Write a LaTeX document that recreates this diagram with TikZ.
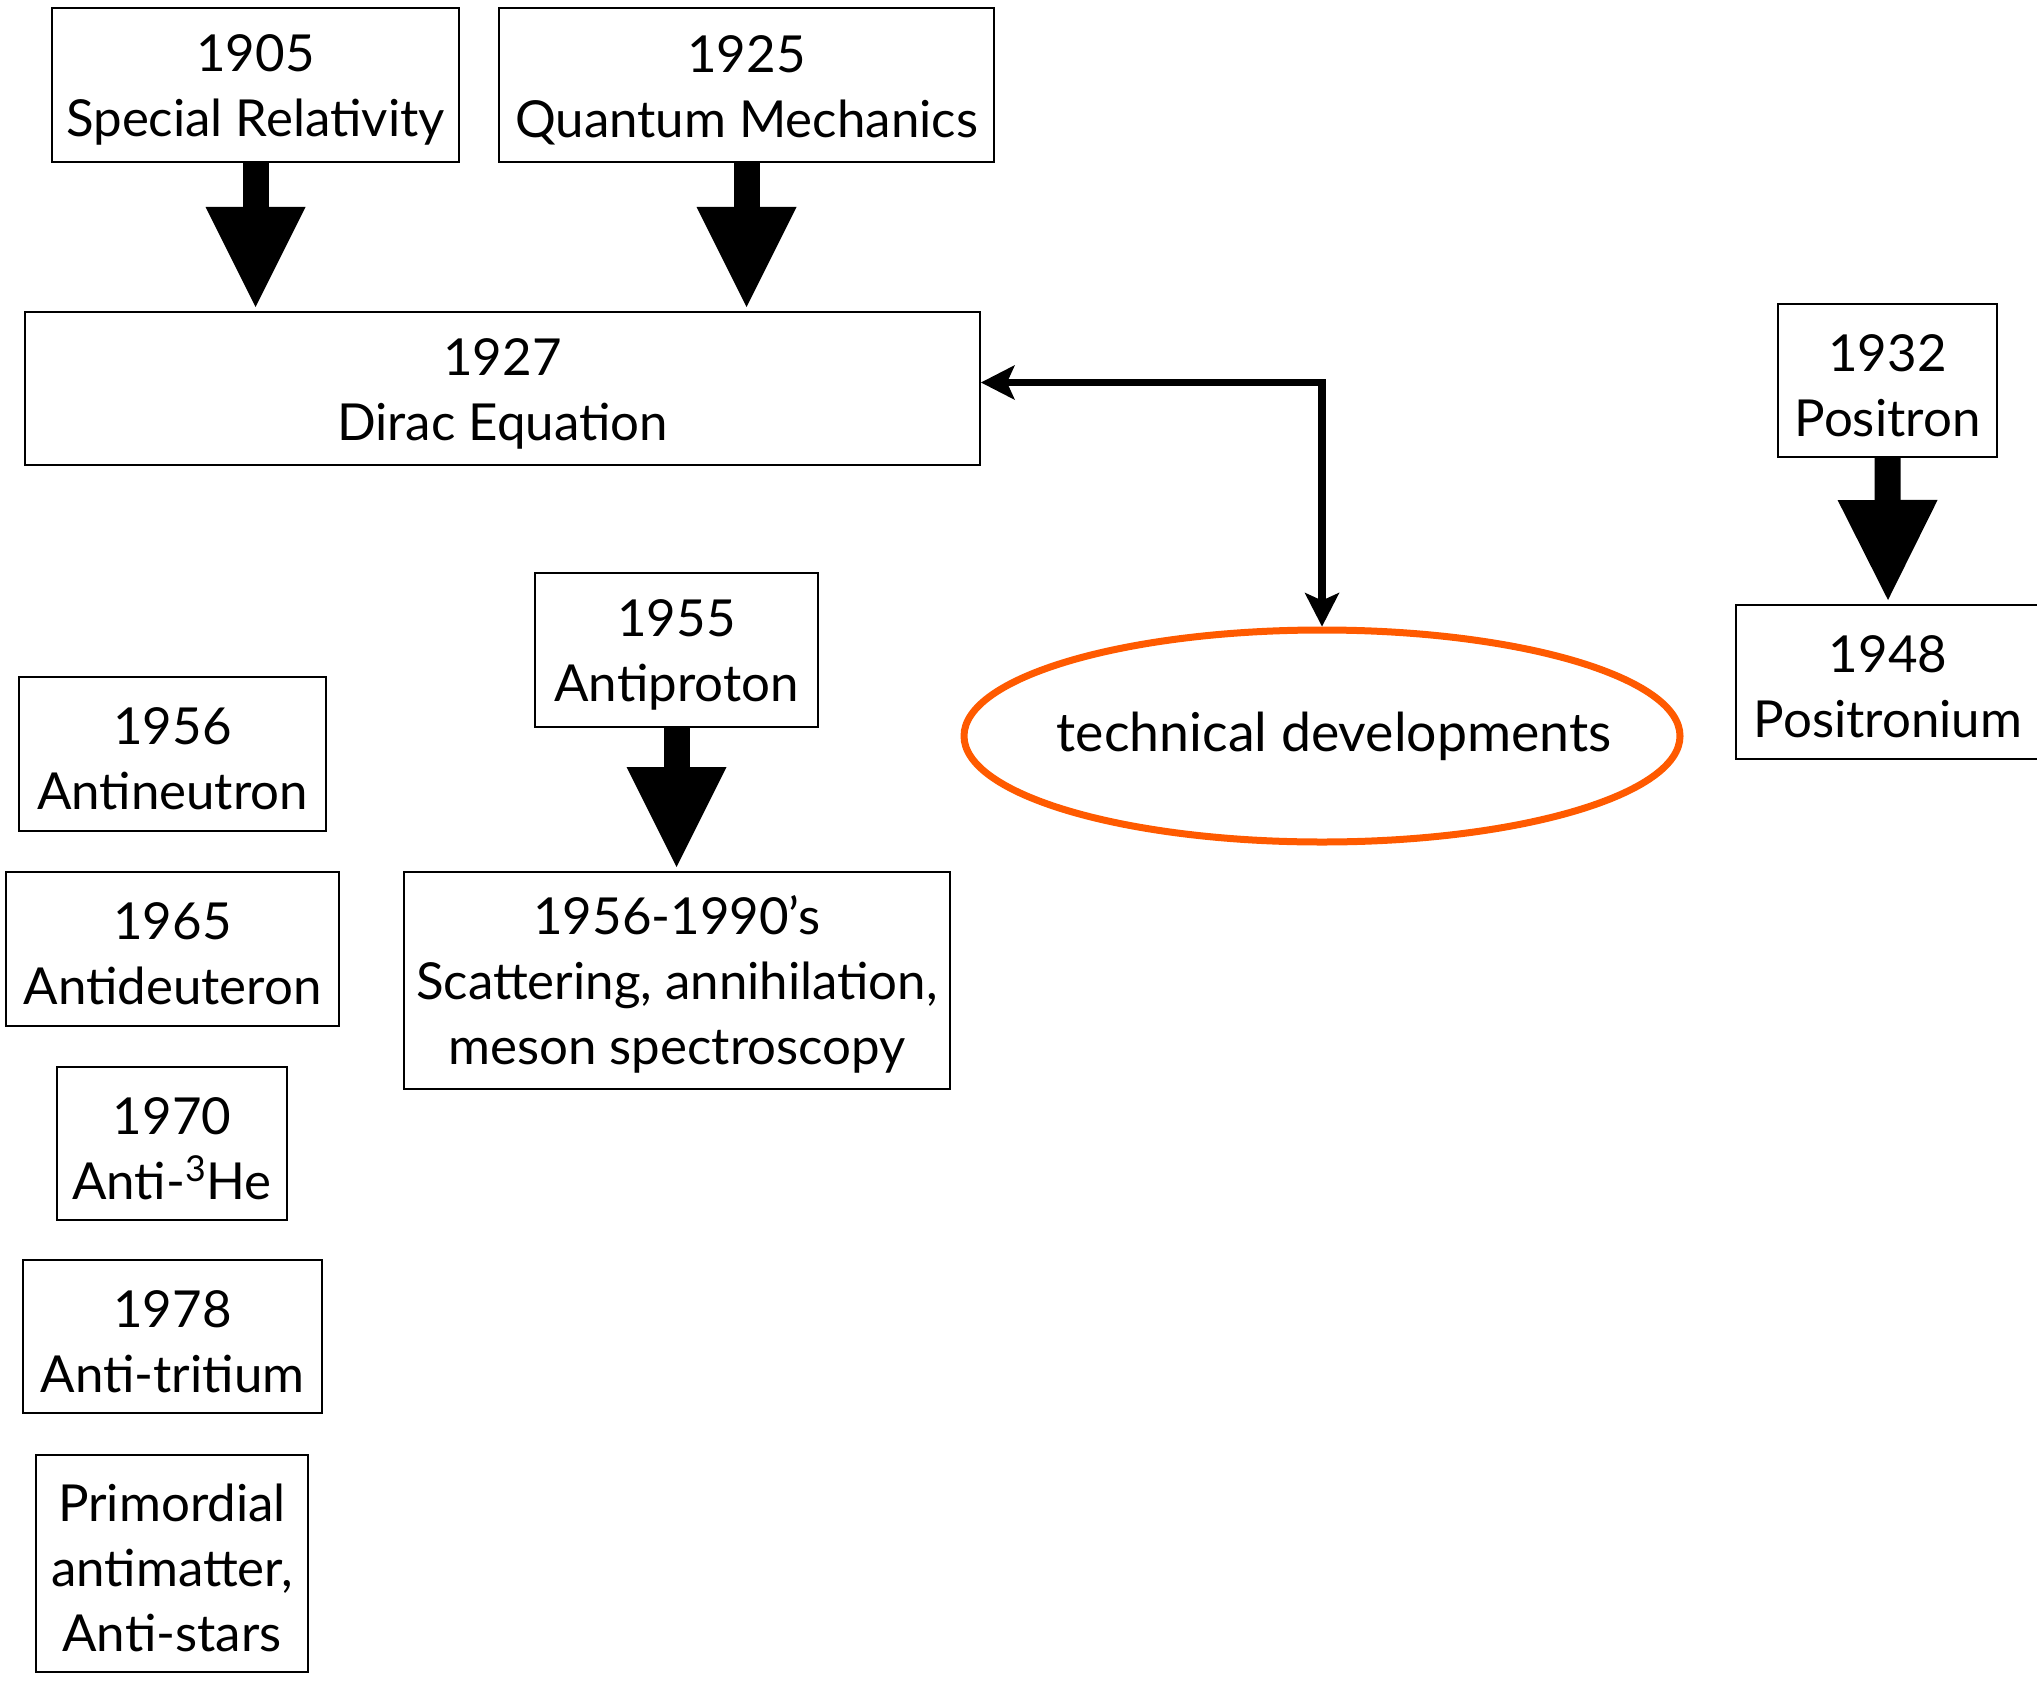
\documentclass[tikz,border=0pt]{standalone}
\usepackage{fontspec}
\setmainfont{Lato}
\usetikzlibrary{arrows.meta,shapes.geometric}
\definecolor{techorange}{RGB}{255,90,0}
\newcommand\firstline{\rule{0pt}{23.5pt}}
\begin{document}
\begin{tikzpicture}[x=0.5pt,y=-0.5pt,
  box/.style={draw, line width=1pt, align=center, inner sep=0pt, font=\fontsize{25.5}{32.5}\selectfont},
  bigarrow/.style={line width=13pt, -{Triangle[length=50pt,width=50pt,line width=0pt]}, shorten >=2pt},
  link/.style={line width=3.7pt, {Stealth[length=17pt,width=17.5pt,inset=4pt,line width=0pt]}-{Stealth[length=17pt,width=17.5pt,inset=4pt,line width=0pt]}},
  tech/.style={ellipse, draw=techorange, line width=3.5pt, inner sep=0pt, font=\fontsize{26.8}{32}\selectfont}
]
\useasboundingbox (0,0) rectangle (2037,1680);
\node[box, minimum width=203.5pt, minimum height=77pt] (y1905) at (255.5,85) {\firstline 1905\\Special Relativity};
\node[box, minimum width=247.5pt, minimum height=77pt] (y1925) at (746.5,85) {\firstline 1925\\Quantum Mechanics};
\node[box, minimum width=477.5pt, minimum height=76.5pt] (dirac) at (502.5,388.5) {\firstline 1927\\Dirac Equation};
\node[box, minimum width=109.5pt, minimum height=76.5pt] (y1932) at (1887.5,380.5) {\firstline 1932\\Positron};
\node[box, minimum width=152pt, minimum height=77pt] (y1948) at (1888,682) {\firstline 1948\\Positronium};
\node[box, minimum width=141.5pt, minimum height=77pt] (y1955) at (676.5,650) {\firstline 1955\\Antiproton};
\node[box, minimum width=273pt, minimum height=108.5pt] (scat) at (677,980.5) {\firstline 1956-1990’s\\Scattering, annihilation,\\meson spectroscopy};
\node[box, minimum width=153.5pt, minimum height=77pt] (y1956) at (172.5,754) {\firstline 1956\\Antineutron};
\node[box, minimum width=166.5pt, minimum height=77pt] (y1965) at (172.5,949) {\firstline 1965\\Antideuteron};
\node[box, minimum width=115pt, minimum height=76.5pt] (y1970) at (172,1143.5) {\firstline 1970\\Anti-\textsuperscript{3}He};
\node[box, minimum width=149.5pt, minimum height=76.5pt] (y1978) at (172.5,1336.5) {\firstline 1978\\Anti-tritium};
\node[box, minimum width=136pt, minimum height=108.5pt] (prim) at (172,1563.5) {\firstline Primordial\\antimatter,\\Anti-stars};
\node[tech, minimum width=358pt, minimum height=106pt] (techdev) at (1322,736) {\makebox[0pt]{\hspace*{12pt}technical developments}};
\draw[bigarrow] (y1905.south) -- (y1905.south |- dirac.north);
\draw[bigarrow] (y1925.south) -- (y1925.south |- dirac.north);
\draw[bigarrow] (y1932.south) -- (y1948.north);
\draw[bigarrow] (y1955.south) -- (y1955.south |- scat.north);
\draw[link] ([yshift=3pt]dirac.east) -| (techdev.north);
\end{tikzpicture}
\end{document}
